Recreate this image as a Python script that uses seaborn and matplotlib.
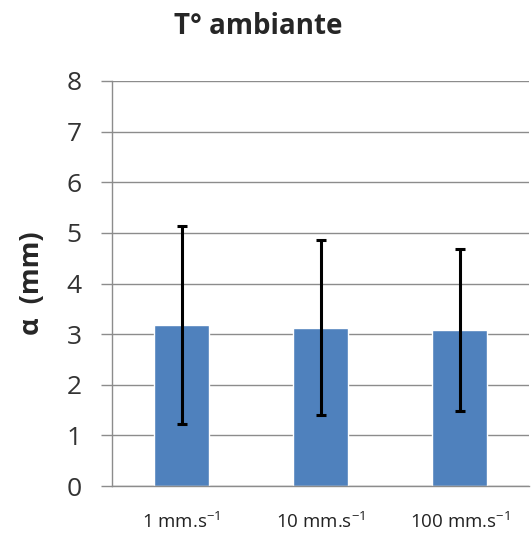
import matplotlib
matplotlib.use("Agg")
import matplotlib.pyplot as plt
import seaborn as sns
import pandas as pd

# values
speeds = [r"1 mm.s$^{-1}$", r"10 mm.s$^{-1}$", r"100 mm.s$^{-1}$"]
alpha_mean = [3.18, 3.13, 3.09]
alpha_err = [1.96, 1.73, 1.60]
y_ticks = [0, 1, 2, 3, 4, 5, 6, 7, 8]

sns.set_style("white")
plt.rcParams["font.family"] = ["Open Sans", "DejaVu Sans"]
plt.rcParams["mathtext.fontset"] = "custom"
plt.rcParams["mathtext.rm"] = "Open Sans"
plt.rcParams["mathtext.it"] = "Open Sans:italic"
plt.rcParams["mathtext.bf"] = "Open Sans:bold"

df = pd.DataFrame({"speed": speeds, "alpha": alpha_mean})

fig = plt.figure(figsize=(5.32, 5.40), dpi=100)
ax = fig.add_axes([0.2105, 0.10, 0.784, 0.75])

sns.barplot(data=df, x="speed", y="alpha", color="#4F81BD", saturation=1,
            width=0.4, ax=ax, zorder=2)
ax.errorbar(range(len(speeds)), alpha_mean, yerr=alpha_err, fmt="none",
            ecolor="black", elinewidth=2.2, capsize=3.8, capthick=2.2, zorder=3)

ax.set_xlim(-0.5, 2.5)
ax.set_ylim(0, 8)
ax.set_yticks(y_ticks)
ax.yaxis.grid(True, color="#8c8c8c", linewidth=1)
ax.set_axisbelow(True)

for side in ["top", "right"]:
    ax.spines[side].set_visible(False)
for side in ["left", "bottom"]:
    ax.spines[side].set_color("#8c8c8c")
    ax.spines[side].set_linewidth(1)

ax.set_xticks([-0.5, 0.5, 1.5, 2.5], minor=True)
ax.tick_params(axis="x", which="major", length=0, labelsize=13.5, pad=19,
               colors="#222222")
ax.tick_params(axis="x", which="minor", length=7, color="#8c8c8c", width=1)
ax.tick_params(axis="y", length=8, color="#8c8c8c", width=1, labelsize=19,
               labelcolor="#333333", left=True, pad=14)

ax.set_xlabel("")
ax.set_ylabel("α  (mm)", fontsize=19.5, fontweight="bold", labelpad=15)
fig.suptitle("T° ambiante", fontsize=20, fontweight="bold", x=0.486, y=0.978)

fig.savefig("out.png", dpi=100)
